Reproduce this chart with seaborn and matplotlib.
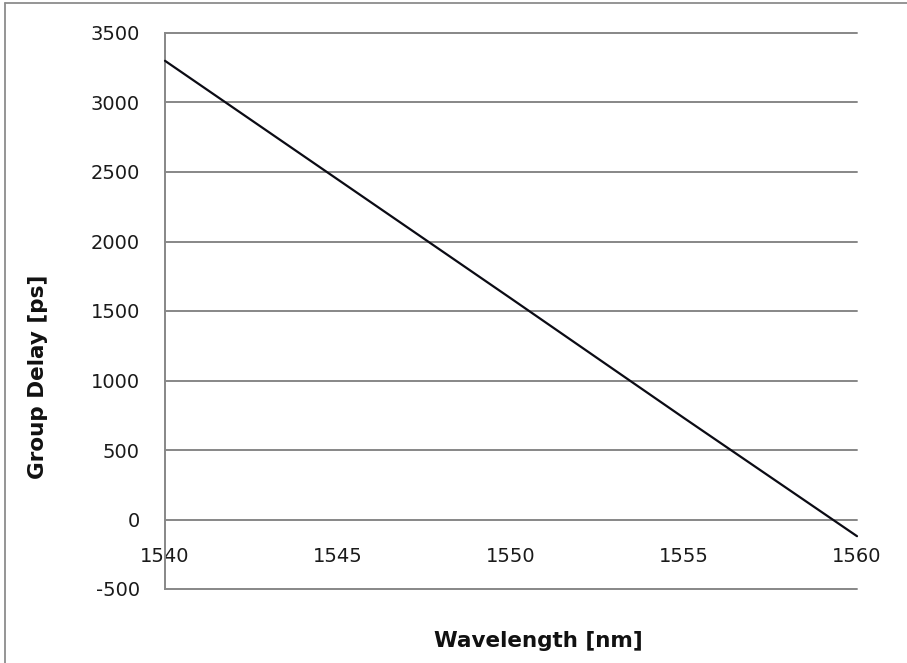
import matplotlib
matplotlib.use("Agg")
import matplotlib.pyplot as plt
from matplotlib.lines import Line2D
import seaborn as sns
import pandas as pd

# Group delay vs wavelength
wavelength_nm = [1540, 1545, 1550, 1555, 1560]
group_delay_ps = [3300, 2445, 1590, 730, -120]
x_ticks = [1540, 1545, 1550, 1555, 1560]
y_ticks = [-500, 0, 500, 1000, 1500, 2000, 2500, 3000, 3500]

sns.set_theme(style="white")
plt.rcParams["font.family"] = ["DejaVu Sans"]

df = pd.DataFrame({"Wavelength": wavelength_nm, "Delay": group_delay_ps})

fig = plt.figure(figsize=(9.07, 6.63), dpi=100)
fig.patch.set_facecolor("white")
ax = fig.add_axes([165 / 907, 1 - 589 / 663, (857 - 165) / 907, (589 - 33) / 663])

grid_color = "#878787"
for yv in y_ticks:
    ax.axhline(yv, color=grid_color, lw=1.4, zorder=1, clip_on=False)

sns.lineplot(data=df, x="Wavelength", y="Delay", ax=ax, color="#0b0b14",
             lw=1.6, zorder=3, clip_on=False)

ax.set_xlim(1540, 1560)
ax.set_ylim(-500, 3500)
ax.set_xticks(x_ticks)
ax.set_yticks(y_ticks)
ax.set_xticklabels([str(v) for v in x_ticks])
ax.set_yticklabels([str(v) for v in y_ticks])

for s in ["top", "right"]:
    ax.spines[s].set_visible(False)
ax.spines["left"].set_color(grid_color)
ax.spines["left"].set_linewidth(1.4)
ax.spines["bottom"].set_position(("data", 0))
ax.spines["bottom"].set_color("none")

ax.tick_params(axis="x", length=0, pad=20, labelsize=14, labelcolor="#1a1a1a")
ax.tick_params(axis="y", length=0, pad=18, labelsize=14, labelcolor="#1a1a1a")
ax.set_xlabel("")
ax.set_ylabel("")

fig.text(538 / 907, 1 - 641 / 663, "Wavelength [nm]", ha="center", va="center",
         fontsize=15.5, fontweight="bold", color="#111111")
fig.text(38 / 907, 1 - 377 / 663, "Group Delay [ps]", ha="center", va="center",
         rotation=90, fontsize=15.5, fontweight="bold", color="#111111")

# chart frame edges
fig.add_artist(Line2D([5 / 907, 5 / 907], [0, 1 - 3 / 663], transform=fig.transFigure,
                      color="#8c8c8c", lw=1.3))
fig.add_artist(Line2D([5 / 907, 1], [1 - 3 / 663, 1 - 3 / 663], transform=fig.transFigure,
                      color="#8c8c8c", lw=1.3))

fig.savefig("out.png", dpi=100, facecolor="white")
